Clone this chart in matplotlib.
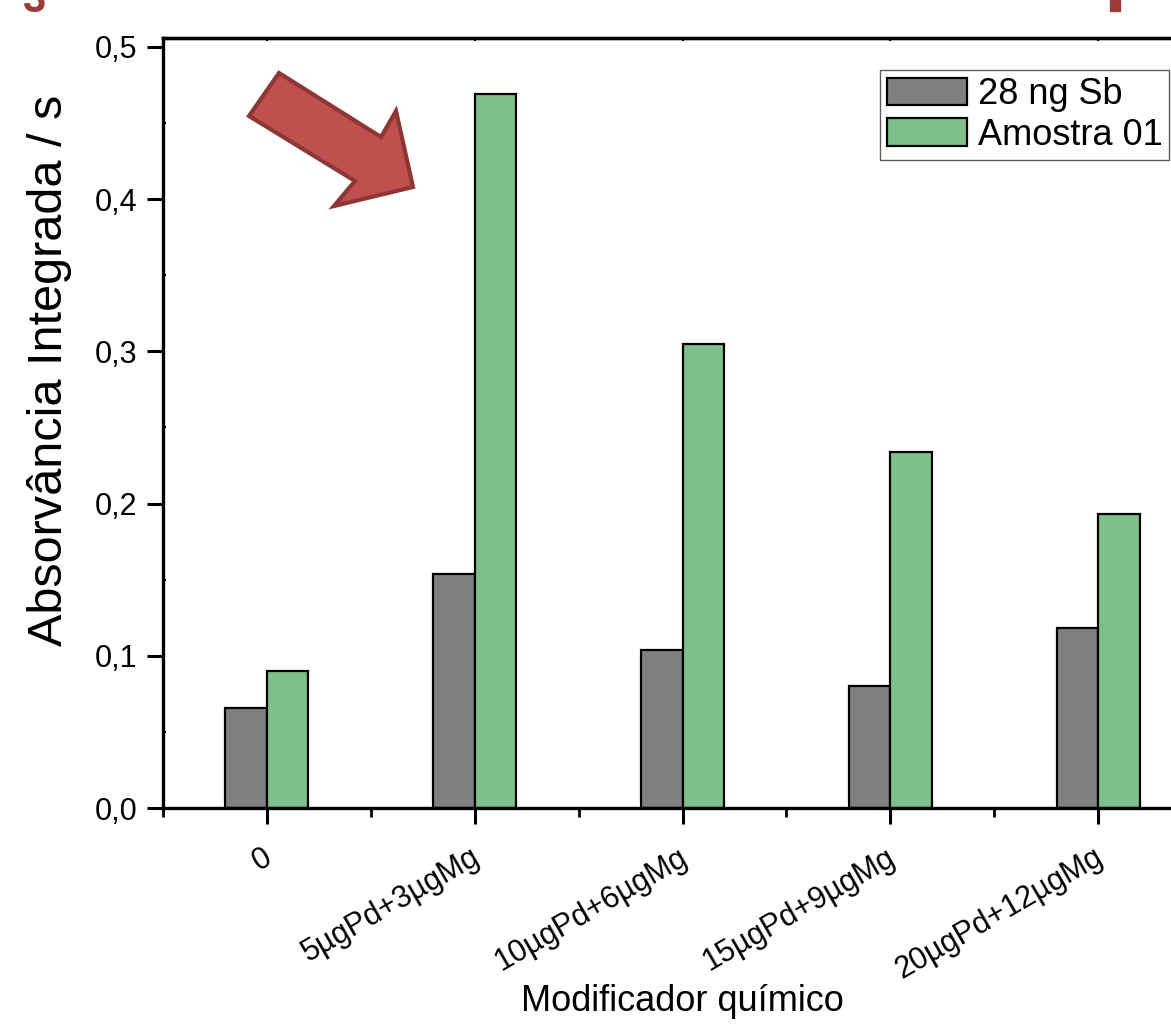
import numpy as np
import matplotlib
matplotlib.use("Agg")
import matplotlib.pyplot as plt
from matplotlib.patches import Polygon, Rectangle
from matplotlib.transforms import ScaledTranslation

W, H, DPI = 1171, 1029, 100

categories = ["0", "5µgPd+3µgMg", "10µgPd+6µgMg", "15µgPd+9µgMg", "20µgPd+12µgMg"]
sb_28ng = [0.066, 0.154, 0.104, 0.080, 0.118]
amostra_01 = [0.090, 0.469, 0.305, 0.234, 0.193]
yticks = [0.0, 0.1, 0.2, 0.3, 0.4, 0.5]

GREY = "#808080"
GREEN = "#7FBF8A"
RED = "#C0504D"
RED_EDGE = "#8E3633"

plt.rcParams.update({
    "font.family": ["Liberation Sans", "DejaVu Sans"],
    "axes.linewidth": 2.4,
})


def px(x, y):
    # image pixel (from top-left) -> figure fraction
    return x / W, 1 - y / H


fig = plt.figure(figsize=(W / DPI, H / DPI), dpi=DPI)
ax = fig.add_axes([163 / W, 1 - 808 / H, (1202 - 163) / W, (808 - 37.7) / H])

x = np.arange(len(categories))
bw = 0.2
ax.bar(x - bw / 2, sb_28ng, bw, color=GREY, edgecolor="black", lw=1.6, label="28 ng Sb")
ax.bar(x + bw / 2, amostra_01, bw, color=GREEN, edgecolor="black", lw=1.6, label="Amostra 01")

ax.set_xlim(-0.5, len(categories) - 0.5)
ax.set_ylim(0, 0.506)

ax.set_yticks(yticks)
ax.set_yticklabels([f"{v:.1f}".replace(".", ",") for v in yticks], fontsize=22)
ax.set_yticks(np.arange(0.05, 0.5, 0.1), minor=True)
ax.tick_params(axis="y", which="major", direction="out", length=11.5, width=2.2, pad=7)
ax.tick_params(axis="y", which="minor", direction="in", length=2, width=1.5)

ax.set_xticks(x)
ax.set_xticks(np.arange(-0.5, len(categories), 1.0), minor=True)
ax.set_xticklabels(categories, fontsize=22, rotation=30, ha="right",
                   va="top", rotation_mode="anchor")
ax.tick_params(axis="x", which="major", direction="out", length=11.5, width=2.2, pad=14)
ax.tick_params(axis="x", which="minor", direction="out", length=6.5, width=2.0)
shift = ScaledTranslation(-5 / DPI, 1 / DPI, fig.dpi_scale_trans)
for lab in ax.get_xticklabels():
    lab.set_transform(lab.get_transform() + shift)

top = ax.secondary_xaxis("top")
top.set_xticks(x)
top.set_xticklabels([])
top.tick_params(direction="in", length=2.5, width=1.5)

ax.set_ylabel("Absorvância Integrada / s", fontsize=35)
ax.yaxis.set_label_coords(-0.088, 0.568)
ax.set_xlabel("Modificador químico", fontsize=26)
ax.xaxis.set_label_coords(0.5, -0.228)

leg = ax.legend(loc="upper left", bbox_to_anchor=px(880, 70), bbox_transform=fig.transFigure,
                fontsize=26, frameon=True, fancybox=False, borderaxespad=0,
                borderpad=0.2, handlelength=2.2, handleheight=0.8,
                handletextpad=0.3, labelspacing=0.15)
leg.get_frame().set_edgecolor("#333333")
leg.get_frame().set_linewidth(1.0)

# decorations cropped from the slide
arrow_pts = [px(*p) for p in [(279, 73), (381, 137), (396, 111), (413, 187),
                               (334, 206), (355, 181), (249, 116)]]
fig.patches.append(Polygon(arrow_pts, closed=True, facecolor=RED, edgecolor=RED_EDGE,
                           lw=3, transform=fig.transFigure, figure=fig))
fig.text(*px(22, 12), "3", fontsize=30, fontweight="bold", color="#9E3B37",
         va="baseline", ha="left")
fig.patches.append(Rectangle(px(1110, 11), 10 / W, 11 / H, color="#9E3B37",
                             transform=fig.transFigure, figure=fig))

fig.savefig("out.png", dpi=DPI)
